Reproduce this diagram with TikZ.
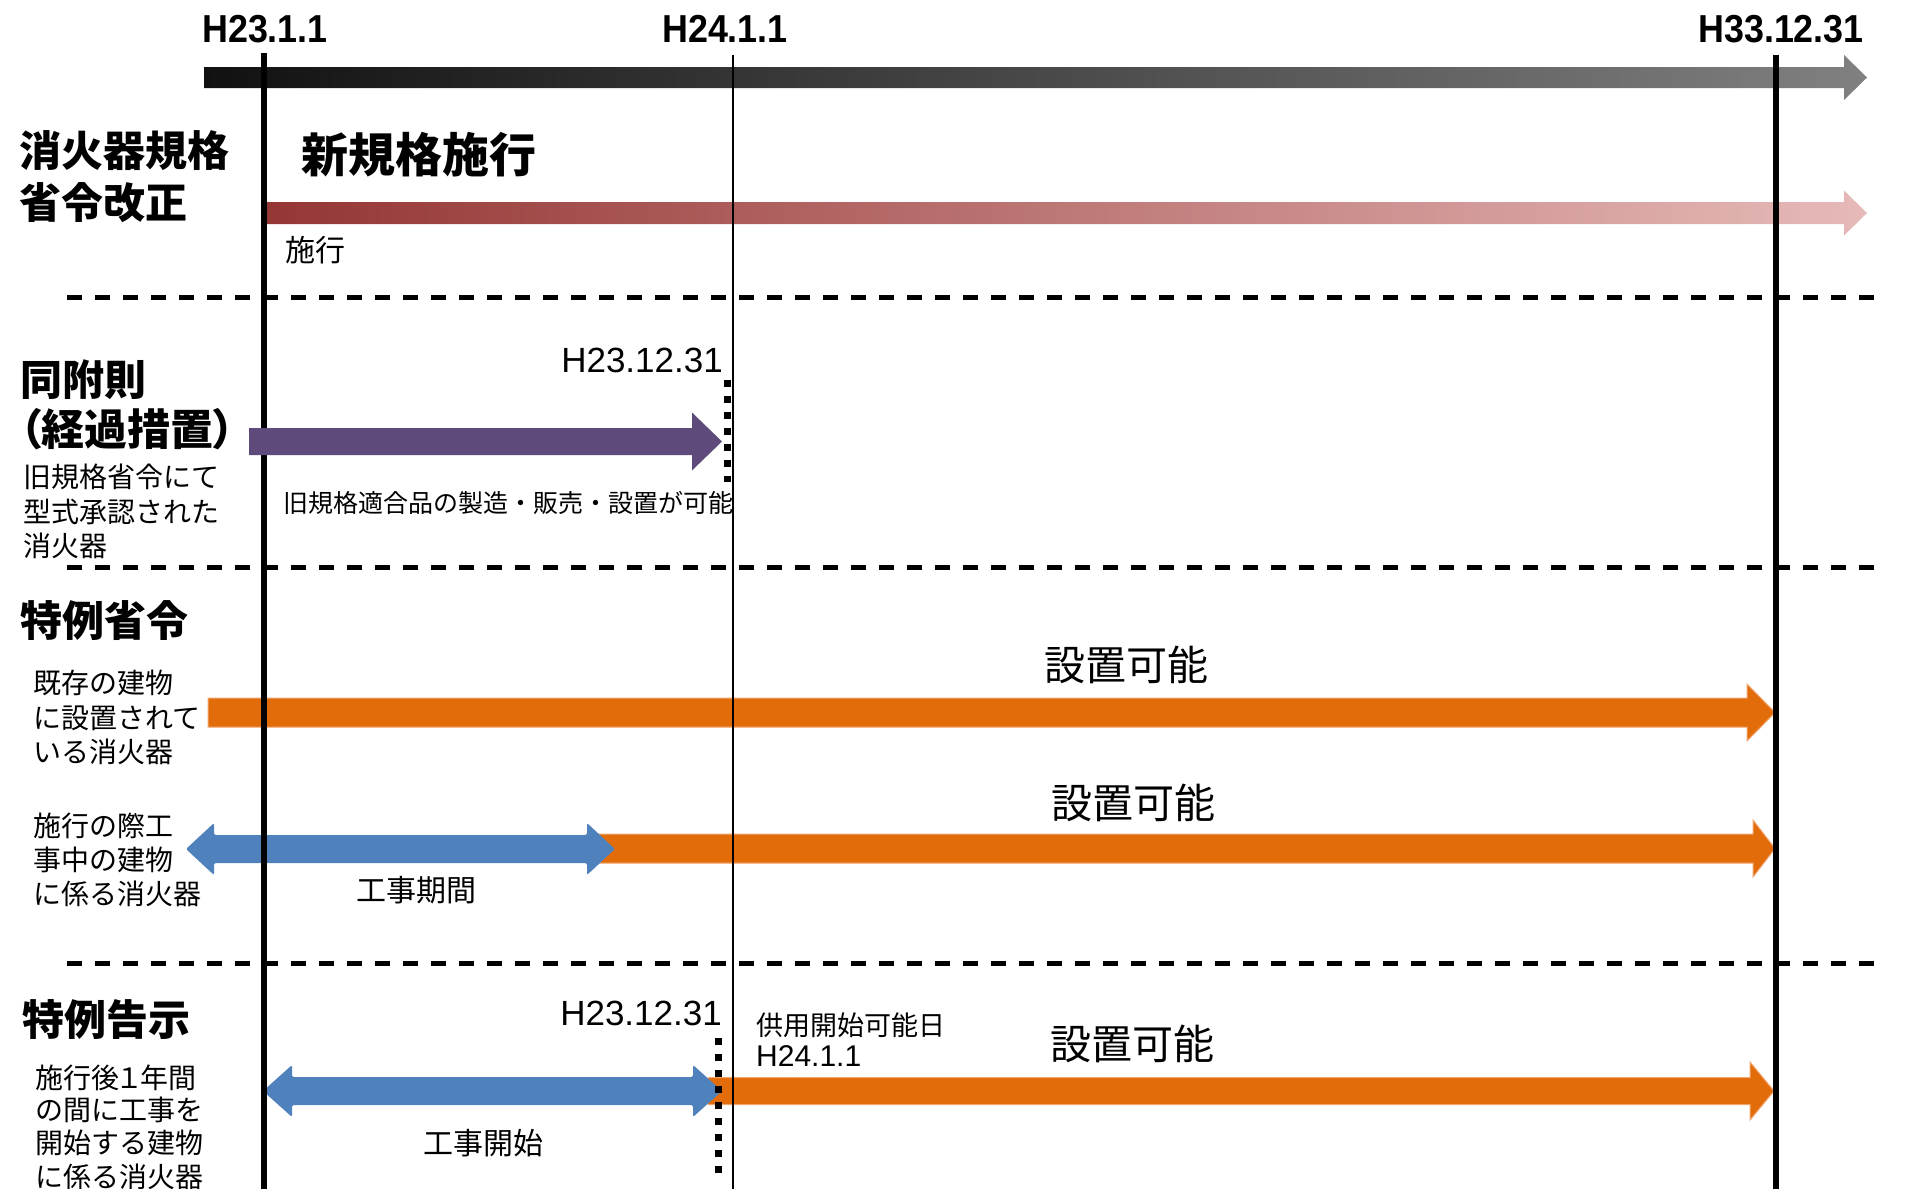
\documentclass[tikz,border=0pt]{standalone}
\usepackage{fontspec}
\setmainfont{Liberation Sans}
\newfontfamily\jp{Noto Sans CJK JP}
\newfontfamily\jpp{Noto Sans CJK JP}[RawFeature=+palt]
\newfontfamily\hnar{Liberation Sans}[FakeStretch=0.92]
\definecolor{orng}{RGB}{227,108,10}
\definecolor{orngedge}{RGB}{242,165,110}
\definecolor{blu}{RGB}{79,129,189}
\definecolor{purp}{RGB}{95,75,123}
\definecolor{redA}{RGB}{148,54,52}
\definecolor{redB}{RGB}{230,186,185}
\definecolor{grayA}{RGB}{17,17,17}
\definecolor{grayB}{RGB}{128,128,128}
% right arrow: #1 options, #2 x start, #3 x tip, #4 y centre, #5 half shaft, #6 half head, #7 head length
\newcommand\myrarrow[7]{\path[#1] (#2,#4-#5) -- (#3-#7,#4-#5) -- (#3-#7,#4-#6) -- (#3,#4) -- (#3-#7,#4+#6) -- (#3-#7,#4+#5) -- (#2,#4+#5) -- cycle;}
% double arrow
\newcommand\mydarrow[7]{\path[#1] (#2,#4) -- (#2+#7,#4-#6) -- (#2+#7,#4-#5) -- (#3-#7,#4-#5) -- (#3-#7,#4-#6) -- (#3,#4) -- (#3-#7,#4+#6) -- (#3-#7,#4+#5) -- (#2+#7,#4+#5) -- (#2+#7,#4+#6) -- cycle;}
\begin{document}
\begin{tikzpicture}[x=1pt,y=-1pt,
  hlab/.style={font=\hnar\bfseries\fontsize{39}{44}\selectfont, inner sep=0},
  dlab/.style={font=\fontsize{35}{40}\selectfont, inner sep=0, anchor=east},
  sect/.style={font=\jp\bfseries\fontsize{42}{50}\selectfont, inner sep=0, anchor=west},
  desc/.style={font=\jp\fontsize{28}{34}\selectfont, inner sep=0, anchor=west},
  big/.style={font=\jp\fontsize{41}{48}\selectfont, inner sep=0},
  mid/.style={font=\jp\fontsize{30}{36}\selectfont, inner sep=0},
  sepline/.style={line width=5pt, dash pattern=on 15pt off 13pt},
  dotline/.style={line width=7pt, dash pattern=on 7pt off 9pt},
  orngarrow/.style={fill=orng, draw=orngedge, line width=1pt},
  bluarrow/.style={fill=blu, rounded corners=2pt}
]
\useasboundingbox (0,0) rectangle (1915,1189);
\fill[white] (0,0) rectangle (1915,1189);

% separators
\coordinate (sepAl) at (67,297);  \coordinate (sepAr) at (1877,297);
\coordinate (sepBl) at (67,567);  \coordinate (sepBr) at (1877,567);
\coordinate (sepCl) at (67,963);  \coordinate (sepCr) at (1877,963);
\draw[sepline] (sepAl) -- (sepAr);
\draw[sepline] (sepBl) -- (sepBr);
\draw[sepline] (sepCl) -- (sepCr);

% top time arrow and new-standard arrow
\myrarrow{left color=grayA, right color=grayB}{204}{1867}{77.5}{10.5}{22.5}{23}
\myrarrow{left color=redA, right color=redB}{264}{1867}{213}{11}{22.5}{23}

% special ordinance arrows
\myrarrow{orngarrow}{208}{1775}{712.5}{14.5}{28.5}{28}
\myrarrow{orngarrow}{590}{1775}{848.5}{14.5}{28.5}{22}
\mydarrow{bluarrow}{186}{615}{849}{14}{26}{28}
% special notice arrows
\myrarrow{orngarrow}{708}{1774}{1091}{13.5}{29}{24}
\mydarrow{bluarrow}{263}{722}{1091}{14}{26}{29}

% vertical date lines
\coordinate (v1t) at (264,53);   \coordinate (v1b) at (264,1189);
\coordinate (v2t) at (733,55);   \coordinate (v2b) at (733,1189);
\coordinate (v3t) at (1776,55);  \coordinate (v3b) at (1776,1189);
\draw[line width=6pt] (v1t) -- (v1b);
\draw[line width=2pt] (v2t) -- (v2b);
\draw[line width=6pt] (v3t) -- (v3b);

% transitional arrow
\myrarrow{fill=purp}{249}{722}{441.5}{13.5}{29}{30}

% dotted end lines
\coordinate (dAt) at (727,380);  \coordinate (dAb) at (727,482);
\coordinate (dBt) at (718,1038); \coordinate (dBb) at (718,1176);
\draw[dotline] (dAt) -- (dAb);
\draw[dotline] (dBt) -- (dBb);

% date labels
\node[hlab] (d1) at (265,29) {H23.1.1};
\node[hlab] (d2) at (725,29) {H24.1.1};
\node[hlab] (d3) at (1781,29) {H33.12.31};

% section 1
\node[sect] (s1a) at (19,151) {消火器規格};
\node[sect] (s1b) at (19,203) {省令改正};
\node[sect, font=\jp\bfseries\fontsize{47}{54}\selectfont] (s1c) at (301,155) {新規格施行};
\node[mid, anchor=west] (s1d) at (285,250) {施行};

% section 2
\node[sect] (s2a) at (20,380) {同附則};
\node[sect, font=\jpp\bfseries\fontsize{43}{50}\selectfont] (s2b) at (20,429) {（経過措置）};
\node[desc] (s2c) at (23,477) {旧規格省令にて};
\node[desc] (s2d) at (23,512) {型式承認された};
\node[desc] (s2e) at (23,546) {消火器};
\node[dlab] (s2f) at (723,360) {H23.12.31};
\node[desc, font=\jp\fontsize{25}{30}\selectfont] (s2g) at (283,503) {旧規格適合品の製造・販売・設置が可能};

% section 3
\node[sect] (s3a) at (20,621) {特例省令};
\node[desc] (s3b) at (33,683) {既存の建物};
\node[desc] (s3c) at (33,718) {に設置されて};
\node[desc] (s3d) at (33,752) {いる消火器};
\node[big] (s3e) at (1126,665) {設置可能};
\node[desc] (s3f) at (33,826) {施行の際工};
\node[desc] (s3g) at (33,860) {事中の建物};
\node[desc] (s3h) at (33,894) {に係る消火器};
\node[big] (s3i) at (1133,803) {設置可能};
\node[mid] (s3j) at (416,890) {工事期間};

% section 4
\node[sect] (s4a) at (22,1020) {特例告示};
\node[dlab] (s4b) at (722,1013) {H23.12.31};
\node[desc, font=\jp\fontsize{27}{32}\selectfont] (s4c) at (756,1025) {供用開始可能日};
\node[inner sep=0, anchor=west, font=\fontsize{30}{36}\selectfont] (s4d) at (756,1056) {H24.1.1};
\node[big] (s4e) at (1132,1044) {設置可能};
\node[mid] (s4f) at (483,1143) {工事開始};
\node[desc, font=\jpp\fontsize{28}{34}\selectfont] (s4g) at (35,1078) {施行後１年間};
\node[desc] (s4h) at (35,1110) {の間に工事を};
\node[desc] (s4i) at (35,1143) {開始する建物};
\node[desc] (s4j) at (35,1177) {に係る消火器};
\end{tikzpicture}
\end{document}
